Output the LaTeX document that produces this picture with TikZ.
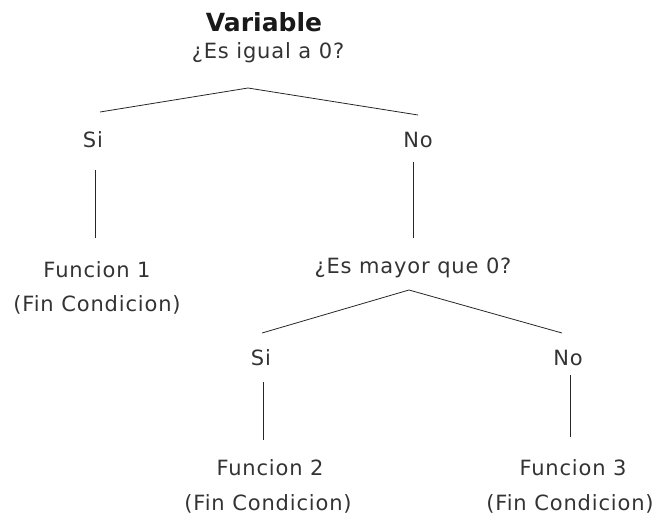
\documentclass[tikz,border=0pt]{standalone}
\usepackage{fontspec}
\setmainfont{DejaVu Sans}
\newfontfamily\lblfont[LetterSpace=4]{DejaVu Sans}
\begin{document}
\begin{tikzpicture}[x=1pt,y=-1pt,
  lbl/.style={font=\lblfont\fontsize{21}{24}\selectfont, inner sep=0pt, text=black!80},
  ttl/.style={font=\fontsize{25}{28}\selectfont\bfseries, inner sep=0pt, text=black!90},
  conn/.style={line width=0.8pt, black!85}]
\useasboundingbox (0,0) rectangle (659,517);
% texts
\node[ttl] (var) at (264,22) {Variable};
\node[lbl] (q1) at (268,53) {¿Es igual a 0?};
\node[lbl] (si1) at (93,140) {Si};
\node[lbl] (no1) at (418,140) {No};
\node[lbl] (f1) at (97,270) {Funcion 1};
\node[lbl] (c1) at (97,305) {(Fin Condicion)};
\node[lbl] (q2) at (413,268) {¿Es mayor que 0?};
\node[lbl] (si2) at (261,358) {Si};
\node[lbl] (no2) at (568,358) {No};
\node[lbl] (f2) at (270,468) {Funcion 2};
\node[lbl] (c2) at (268,504) {(Fin Condicion)};
\node[lbl] (f3) at (573,468) {Funcion 3};
\node[lbl] (c3) at (570,504) {(Fin Condicion)};
% connector points
\coordinate (a1) at (248,88);
\coordinate (l1) at (100,112);
\coordinate (r1) at (418,115);
\coordinate (a2) at (409,290);
\coordinate (l2) at (262,333);
\coordinate (r2) at (562,333);
\draw[conn] (l1) -- (a1) -- (r1);
\draw[conn] (l2) -- (a2) -- (r2);
\draw[conn] (95,170) -- (95,238);
\draw[conn] (413,162) -- (413,238);
\draw[conn] (263,382) -- (263,440);
\draw[conn] (570,375) -- (570,437);
\end{tikzpicture}
\end{document}
